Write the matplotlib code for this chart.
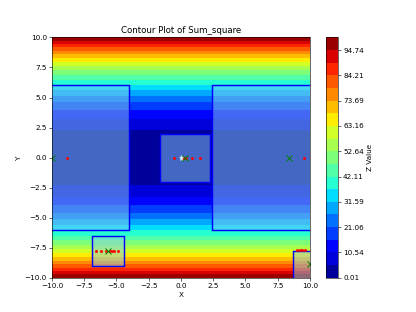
import numpy as np
import matplotlib
matplotlib.use("Agg")
from matplotlib import pyplot as plt
from matplotlib.patches import Rectangle

# grid for the surface
x_grid = np.linspace(-10, 10, 100)
y_grid = np.linspace(-10, 10, 100)

# boxes drawn over the surface: (x0, y0, width, height)
boxes = [
    (-10.5, -6.0, 6.5, 12.0),
    (-1.6, -2.0, 3.85, 3.95),
    (2.4, -6.0, 8.5, 12.0),
    (-6.9, -9.0, 2.45, 2.45),
    (8.65, -10.5, 2.5, 2.75),
]

# red points
red_x = [-8.85, -0.55, 0.1, 0.2, 0.3, 0.4, 0.85, 1.45, 9.55,
         -6.6, -6.2, -5.8, -5.5, -5.35, -5.2, -4.9, 9.0, 9.2, 9.4, 9.6]
red_y = [0.0, 0.0, 0.0, 0.0, 0.0, 0.0, 0.0, 0.0, 0.0,
         -7.75, -7.75, -7.75, -7.75, -7.75, -7.75, -7.75, -7.7, -7.7, -7.7, -7.7]

# green crosses
green_x = [-10.0, 0.3, 8.35, -5.65, 10.0]
green_y = [0.0, 0.0, 0.0, -7.75, -8.9]

# best point
best_x = [0.0]
best_y = [0.0]

X, Y = np.meshgrid(x_grid, y_grid)
Z = Y ** 2

fig, ax = plt.subplots(figsize=(8, 6), dpi=52)
levels = np.linspace(Z.min(), Z.max(), 20)
cf = ax.contourf(X, Y, Z, levels=levels, cmap="jet")
cbar = fig.colorbar(cf, ax=ax)
cbar.set_ticks(levels[::2])
cbar.set_ticklabels([f"{v:.2f}" for v in levels[::2]])
cbar.set_label("Z Value")

for x0, y0, w, h in boxes:
    ax.add_patch(Rectangle((x0, y0), w, h, facecolor="skyblue",
                           edgecolor="none", alpha=0.5))
    ax.add_patch(Rectangle((x0, y0), w, h, facecolor="none",
                           edgecolor="blue", linewidth=2))

ax.plot(red_x, red_y, "o", color="red", markersize=3, linestyle="none")
ax.plot(green_x, green_y, "x", color="green", markersize=7, mew=1.3,
        linestyle="none")
ax.plot(best_x, best_y, "*", color="white", markersize=7, markeredgecolor="lightblue")

ax.set_xlim(-10, 10)
ax.set_ylim(-10, 10)
ax.set_xlabel("X")
ax.set_ylabel("Y")
ax.set_title("Contour Plot of Sum_square", fontsize=12)

fig.savefig("out.png", dpi=52)
